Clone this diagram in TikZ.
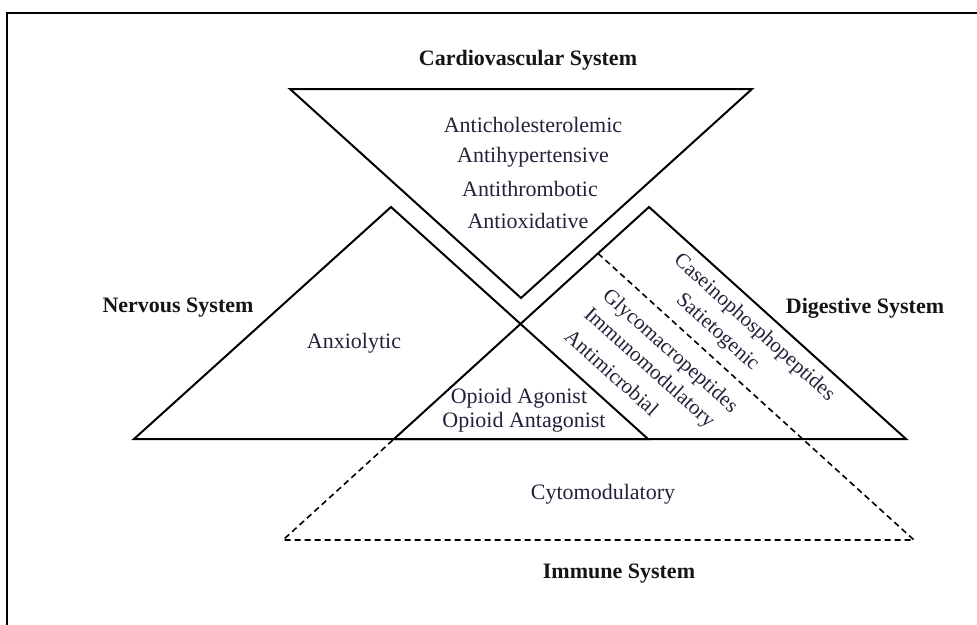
\documentclass[tikz,border=0pt]{standalone}
\usepackage{fontspec}
\setmainfont{Liberation Serif}
\definecolor{lblc}{RGB}{36,34,58}
\definecolor{sysc}{RGB}{25,20,20}
\begin{document}
\begin{tikzpicture}[x=1pt,y=-1pt,
  tri/.style={draw=black, line width=2pt, line join=miter},
  dsh/.style={draw=black, line width=1.6pt, dash pattern=on 6pt off 4pt, line join=miter},
  frm/.style={draw=black, line width=2.6pt},
  lbl/.style={text=lblc, font=\fontsize{22}{24}\selectfont, inner sep=0pt, anchor=center},
  sys/.style={text=sysc, font=\fontsize{22}{24}\selectfont\bfseries, inner sep=0pt, anchor=center},
  rot/.style={lbl, font=\fontsize{21}{23}\selectfont, rotate=-42},
]
\useasboundingbox (0,0) rectangle (977,624);
\fill[white] (0,0) rectangle (977,624);
% frame (right and bottom edges lie outside the picture)
\draw[frm] (7,630) -- (7,13) -- (985,13);

% vertices
\coordinate (cvL) at (290,89);
\coordinate (cvR) at (752,89);
\coordinate (cvA) at (521,298);
\coordinate (nsA) at (391,207);
\coordinate (nsL) at (134,439);
\coordinate (nsR) at (648,439);
\coordinate (dsA) at (649,207);
\coordinate (dsL) at (394,439);
\coordinate (dsR) at (906,439);
\coordinate (imA) at (598,253.4);
\coordinate (imL) at (283,540);
\coordinate (imR) at (914,540);

% triangles
\draw[tri] (cvL) -- (cvR) -- (cvA) -- cycle;
\draw[tri] (nsA) -- (nsR) -- (nsL) -- cycle;
\draw[tri] (dsA) -- (dsR) -- (dsL) -- cycle;
\draw[dsh] (imA) -- (imR) -- (imL) -- (dsL);

% system titles
\node[sys] (tcv) at (528,60) {Cardiovascular System};
\node[sys] (tns) at (178,308) {Nervous System};
\node[sys] (tds) at (865,308) {Digestive System};
\node[sys] (tim) at (619,574) {Immune System};

% cardiovascular labels
\node[lbl] (l1) at (533,125) {Anticholesterolemic};
\node[lbl] (l2) at (533,157) {Antihypertensive};
\node[lbl] (l3) at (530,189) {Antithrombotic};
\node[lbl] (l4) at (528,221) {Antioxidative};

% nervous
\node[lbl] (l5) at (354,343) {Anxiolytic};
\node[lbl] (l6) at (519,398) {Opioid Agonist};
\node[lbl] (l7) at (524,422) {Opioid Antagonist};

% immune
\node[lbl] (l8) at (603,494) {Cytomodulatory};

% digestive rotated
\node[rot] (r1) at (754,328) {Caseinophosphopeptides};
\node[rot] (r2) at (717,333) {Satietogenic};
\node[rot] (r3) at (669.6,351.6) {Glycomacropeptides};
\node[rot] (r4) at (648.9,368.6) {Immunomodulatory};
\node[rot] (r5) at (611.9,372.3) {Antimicrobial};
\end{tikzpicture}
\end{document}
